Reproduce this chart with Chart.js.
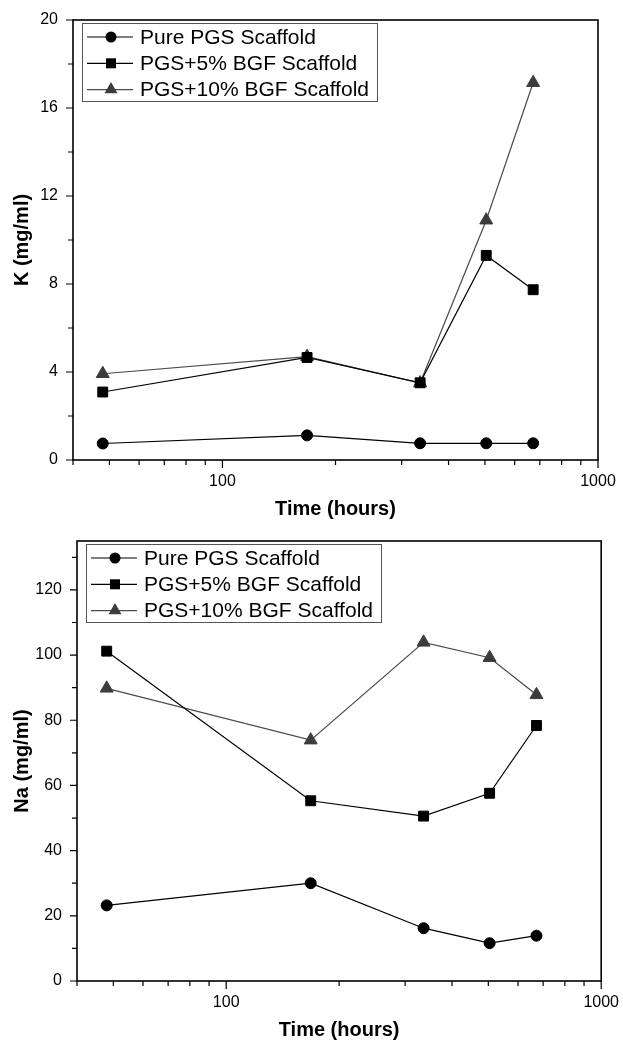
<!DOCTYPE html>
<html>
<head>
<meta charset="utf-8">
<script src="https://cdn.jsdelivr.net/npm/chart.js@4.4.1/dist/chart.umd.min.js"></script>
<style>
  html, body { margin: 0; padding: 0; background: #fff; }
  .panel { position: absolute; left: 0; width: 623px; }
  #top-panel { top: 0; height: 521px; }
  #bottom-panel { top: 521px; height: 525px; }
</style>
</head>
<body>
<div class="panel" id="top-panel"><canvas id="k-chart" width="623" height="521"></canvas></div>
<div class="panel" id="bottom-panel"><canvas id="na-chart" width="623" height="525"></canvas></div>
<script>
const HOURS = [48, 168, 336, 504, 672];
const SERIES_NAMES = ["Pure PGS Scaffold", "PGS+5% BGF Scaffold", "PGS+10% BGF Scaffold"];

const K_PURE = [0.75, 1.12, 0.76, 0.76, 0.76];
const K_BGF5 = [3.09, 4.66, 3.51, 9.3, 7.74];
const K_BGF10 = [3.92, 4.7, 3.5, 10.9, 17.15];

const NA_PURE = [23.2, 30.0, 16.2, 11.6, 13.9];
const NA_BGF5 = [101.2, 55.3, 50.6, 57.6, 78.4];
const NA_BGF10 = [89.8, 73.9, 103.9, 99.2, 87.8];

const X_TICKS = [40, 50, 60, 70, 80, 90, 100, 200, 300, 400, 500, 600, 700, 800, 900, 1000];
const X_LABELS = [100, 1000];
const K_TICKS = [0, 2, 4, 6, 8, 10, 12, 14, 16, 18, 20];
const K_LABELS = [0, 4, 8, 12, 16, 20];
const NA_TICKS = [0, 10, 20, 30, 40, 50, 60, 70, 80, 90, 100, 110, 120, 130];
const NA_LABELS = [0, 20, 40, 60, 80, 100, 120];

const FONT = "'Liberation Sans', Arial, sans-serif";
Chart.defaults.font.family = FONT;
Chart.defaults.color = "#000";

const STYLES = [
  { pointStyle: "circle", color: "#000", line: "#000", radius: 5.5 },
  { pointStyle: "rect", color: "#000", line: "#000", radius: 7 },
  { pointStyle: "triangle", color: "#3c3c3c", line: "#4a4a4a", radius: 7.5 }
];

function toPoints(values) {
  return HOURS.map((h, i) => ({ x: h, y: values[i] }));
}

function makeDatasets(seriesList) {
  return seriesList.map((values, i) => ({
    label: SERIES_NAMES[i],
    data: toPoints(values),
    borderColor: STYLES[i].line,
    borderWidth: 1.2,
    backgroundColor: STYLES[i].color,
    pointStyle: STYLES[i].pointStyle,
    pointRadius: STYLES[i].radius,
    pointBorderColor: STYLES[i].color,
    pointBackgroundColor: STYLES[i].color,
    pointBorderWidth: 1,
    tension: 0
  }));
}

function drawMarker(ctx, style, x, y) {
  ctx.fillStyle = style.color;
  ctx.beginPath();
  if (style.pointStyle === "circle") {
    ctx.arc(x, y, 5.5, 0, Math.PI * 2);
  } else if (style.pointStyle === "rect") {
    ctx.rect(x - 5, y - 5, 10, 10);
  } else {
    const r = 7.5;
    ctx.moveTo(x, y - r);
    ctx.lineTo(x + r * Math.sin(Math.PI * 2 / 3), y + r / 2);
    ctx.lineTo(x - r * Math.sin(Math.PI * 2 / 3), y + r / 2);
    ctx.closePath();
  }
  ctx.fill();
}

// plot frame plus outward ticks (long at labelled values, short elsewhere)
const frameAndTicks = {
  id: "frameAndTicks",
  afterDraw(chart) {
    const { ctx, chartArea: a, scales } = chart;
    ctx.save();
    ctx.strokeStyle = "#000";
    ctx.lineWidth = 1.2;
    ctx.beginPath();
    for (const t of scales.x.ticks) {
      const px = scales.x.getPixelForValue(t.value);
      ctx.moveTo(px, a.bottom);
      ctx.lineTo(px, a.bottom + (t.major ? 8 : 5));
    }
    for (const t of scales.y.ticks) {
      const py = scales.y.getPixelForValue(t.value);
      ctx.moveTo(a.left, py);
      ctx.lineTo(a.left - (t.major ? 7 : 5), py);
    }
    ctx.stroke();
    ctx.lineWidth = 1.6;
    ctx.strokeRect(a.left, a.top, a.right - a.left, a.bottom - a.top);
    ctx.restore();
  }
};

const boxLegend = {
  id: "boxLegend",
  afterDraw(chart) {
    const { ctx, chartArea: a } = chart;
    const left = a.left + 9;
    const top = a.top + 3;
    ctx.save();
    ctx.font = "21px " + FONT;
    const textW = Math.max(...SERIES_NAMES.map((n) => ctx.measureText(n).width));
    const w = 58 + textW + 8;
    const h = 78;
    ctx.fillStyle = "#fff";
    ctx.fillRect(left, top, w, h);
    ctx.strokeStyle = "#555";
    ctx.lineWidth = 1;
    ctx.strokeRect(left + 0.5, top + 0.5, w, h);
    SERIES_NAMES.forEach((name, i) => {
      const y = top + 14 + i * 26.3;
      const st = STYLES[i];
      ctx.strokeStyle = st.line;
      ctx.lineWidth = 1.2;
      ctx.beginPath();
      ctx.moveTo(left + 5, y);
      ctx.lineTo(left + 51, y);
      ctx.stroke();
      drawMarker(ctx, st, left + 29, y);
      ctx.fillStyle = "#000";
      ctx.textBaseline = "middle";
      ctx.fillText(name, left + 58, y + 1);
    });
    ctx.restore();
  }
};

function buildChart(canvasId, seriesList, cfg) {
  return new Chart(document.getElementById(canvasId), {
    type: "line",
    data: { datasets: makeDatasets(seriesList) },
    options: {
      responsive: false,
      animation: false,
      events: [],
      layout: { padding: { top: cfg.padTop, right: cfg.padRight, left: 0, bottom: 0 } },
      plugins: { legend: { display: false }, tooltip: { enabled: false } },
      scales: {
        x: {
          type: "logarithmic",
          min: 40,
          max: 1000,
          afterBuildTicks: (scale) => {
            scale.ticks = X_TICKS.map((v) => ({ value: v, major: X_LABELS.includes(v) }));
          },
          afterFit: (scale) => { scale.height = cfg.xHeight; },
          ticks: {
            autoSkip: false,
            maxRotation: 0,
            padding: 4,
            font: { size: 16 },
            callback: (value) => (X_LABELS.includes(value) ? String(value) : "")
          },
          grid: { display: true, drawOnChartArea: false, drawTicks: true, tickLength: 8, color: "rgba(0,0,0,0)" },
          border: { display: false },
          title: { display: true, text: "Time (hours)", font: { size: 20, weight: "bold" }, padding: { top: 0, bottom: cfg.xTitlePad } }
        },
        y: {
          min: 0,
          max: cfg.yMax,
          afterBuildTicks: (scale) => {
            scale.ticks = cfg.yTicks.map((v) => ({ value: v, major: cfg.yLabels.includes(v) }));
          },
          afterFit: (scale) => { scale.width = cfg.yWidth; },
          ticks: {
            autoSkip: false,
            padding: 7,
            font: { size: 16 },
            callback: (value) => (cfg.yLabels.includes(value) ? String(value) : "")
          },
          grid: { display: true, drawOnChartArea: false, drawTicks: true, tickLength: 8, color: "rgba(0,0,0,0)" },
          border: { display: false },
          title: { display: true, text: cfg.yTitle, font: { size: 20, weight: "bold" }, padding: { top: 10, bottom: 0 } }
        }
      }
    },
    plugins: [frameAndTicks, boxLegend]
  });
}

buildChart("k-chart", [K_PURE, K_BGF5, K_BGF10], {
  yTitle: "K (mg/ml)", yMax: 20, yTicks: K_TICKS, yLabels: K_LABELS,
  padTop: 20, padRight: 25, yWidth: 73, xHeight: 61, xTitlePad: 0
});

buildChart("na-chart", [NA_PURE, NA_BGF5, NA_BGF10], {
  yTitle: "Na (mg/ml)", yMax: 135, yTicks: NA_TICKS, yLabels: NA_LABELS,
  padTop: 20, padRight: 19, yWidth: 77, xHeight: 65, xTitlePad: 4
});
</script>
</body>
</html>
